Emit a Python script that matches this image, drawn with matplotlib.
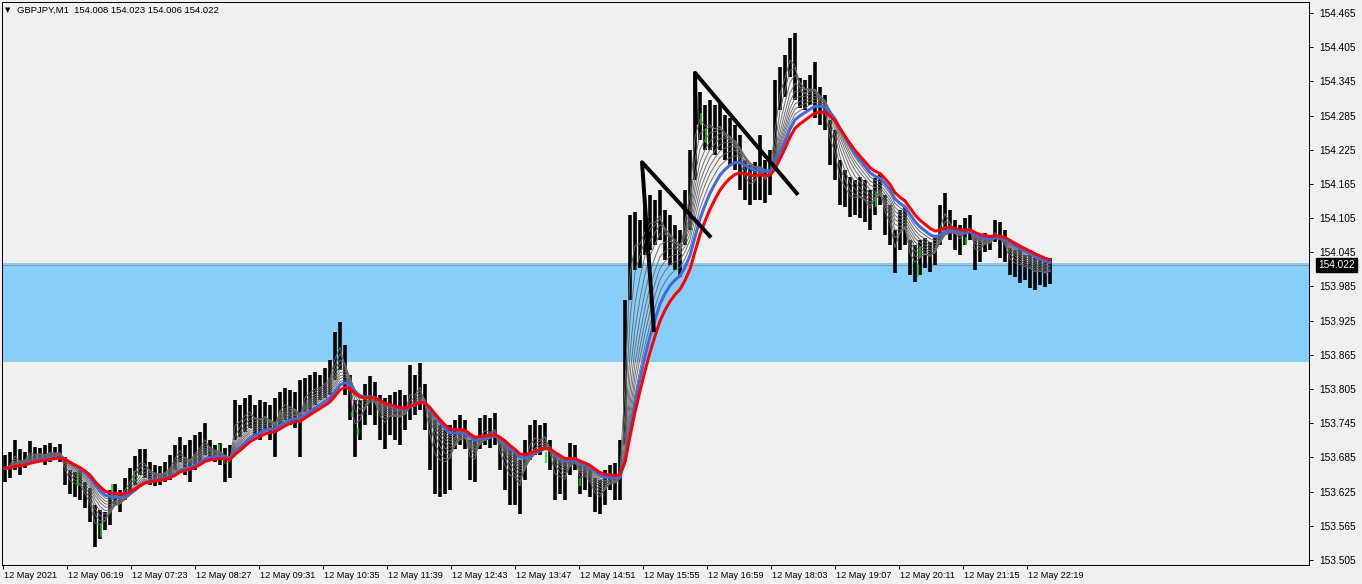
import numpy as np
import matplotlib
matplotlib.use("Agg")
import matplotlib.pyplot as plt
import matplotlib.transforms as mtransforms

plt.rcParams['font.family'] = ['Liberation Sans', 'DejaVu Sans']

# ---------------- data ----------------
title_symbol = "GBPJPY,M1"
title_ohlc = ["154.008", "154.023", "154.006", "154.022"]

minutes_per_group = 5  # each stored range covers 5 one-minute bars

bar_high = [
    153.690, 153.695, 153.716, 153.699, 153.695, 153.713, 153.704, 153.702, 153.707, 153.711,
    153.704, 153.709, 153.685, 153.663, 153.660, 153.663, 153.642, 153.632, 153.602, 153.593,
    153.590, 153.628, 153.639, 153.628, 153.649, 153.667, 153.688, 153.699, 153.699, 153.677,
    153.672, 153.670, 153.677, 153.690, 153.707, 153.721, 153.707, 153.716, 153.725, 153.730,
    153.746, 153.716, 153.707, 153.711, 153.702, 153.707, 153.786, 153.777, 153.790, 153.795,
    153.777, 153.786, 153.783, 153.777, 153.790, 153.800, 153.807, 153.804, 153.799, 153.821,
    153.825, 153.830, 153.835, 153.830, 153.842, 153.856, 153.906, 153.923, 153.883, 153.830,
    153.786, 153.786, 153.813, 153.828, 153.818, 153.795, 153.790, 153.795, 153.799, 153.804,
    153.795, 153.848, 153.830, 153.851, 153.813, 153.769, 153.751, 153.742, 153.734, 153.742,
    153.751, 153.760, 153.751, 153.716, 153.720, 153.755, 153.760, 153.755, 153.763, 153.716,
    153.707, 153.699, 153.699, 153.681, 153.716, 153.742, 153.751, 153.742, 153.746, 153.716,
    153.690, 153.681, 153.681, 153.711, 153.707, 153.672, 153.677, 153.667, 153.649, 153.646,
    153.663, 153.672, 153.676, 153.716, 153.962, 154.111, 154.116, 154.102, 154.128, 154.146,
    154.137, 154.155, 154.120, 154.111, 154.093, 154.085, 154.155, 154.225, 154.351, 154.327,
    154.304, 154.313, 154.304, 154.309, 154.286, 154.281, 154.269, 154.251, 154.207, 154.199,
    154.204, 154.251, 154.207, 154.225, 154.348, 154.370, 154.392, 154.421, 154.430, 154.351,
    154.348, 154.356, 154.379, 154.335, 154.321, 154.277, 154.260, 154.207, 154.190, 154.177,
    154.172, 154.177, 154.172, 154.155, 154.176, 154.185, 154.146, 154.128, 154.085, 154.120,
    154.125, 154.067, 154.058, 154.067, 154.070, 154.063, 154.076, 154.128, 154.149, 154.120,
    154.102, 154.093, 154.106, 154.111, 154.076, 154.070, 154.079, 154.076, 154.102, 154.099,
    154.085, 154.053, 154.049, 154.055, 154.041, 154.049, 154.041, 154.035, 154.032, 154.035,
]
bar_low = [
    153.642, 153.649, 153.663, 153.655, 153.667, 153.677, 153.677, 153.681, 153.672, 153.677,
    153.681, 153.677, 153.637, 153.620, 153.616, 153.611, 153.597, 153.572, 153.527, 153.541,
    153.558, 153.567, 153.602, 153.590, 153.611, 153.620, 153.637, 153.655, 153.649, 153.637,
    153.634, 153.637, 153.641, 153.646, 153.663, 153.677, 153.655, 153.641, 153.663, 153.677,
    153.690, 153.681, 153.677, 153.672, 153.642, 153.649, 153.716, 153.720, 153.730, 153.737,
    153.725, 153.716, 153.734, 153.716, 153.686, 153.742, 153.751, 153.742, 153.737, 153.686,
    153.765, 153.769, 153.777, 153.786, 153.790, 153.795, 153.821, 153.839, 153.795, 153.751,
    153.686, 153.716, 153.742, 153.760, 153.742, 153.716, 153.699, 153.725, 153.716, 153.707,
    153.734, 153.751, 153.760, 153.769, 153.734, 153.663, 153.620, 153.616, 153.620, 153.628,
    153.699, 153.707, 153.699, 153.646, 153.642, 153.699, 153.707, 153.702, 153.707, 153.663,
    153.628, 153.602, 153.602, 153.585, 153.646, 153.681, 153.690, 153.690, 153.699, 153.663,
    153.611, 153.620, 153.611, 153.655, 153.663, 153.620, 153.628, 153.615, 153.590, 153.585,
    153.602, 153.628, 153.611, 153.611, 153.707, 153.962, 154.014, 154.018, 154.041, 154.049,
    154.058, 154.067, 154.032, 154.023, 154.014, 154.002, 154.058, 154.085, 154.172, 154.242,
    154.225, 154.225, 154.216, 154.225, 154.207, 154.199, 154.190, 154.155, 154.137, 154.128,
    154.137, 154.137, 154.132, 154.146, 154.190, 154.295, 154.318, 154.353, 154.313, 154.299,
    154.295, 154.304, 154.281, 154.269, 154.260, 154.199, 154.172, 154.128, 154.125, 154.107,
    154.111, 154.106, 154.099, 154.085, 154.111, 154.128, 154.076, 154.058, 154.009, 154.049,
    154.058, 154.006, 153.993, 154.006, 154.018, 154.011, 154.023, 154.058, 154.085, 154.067,
    154.049, 154.041, 154.058, 154.067, 154.014, 154.028, 154.046, 154.049, 154.063, 154.035,
    154.028, 154.006, 154.002, 153.991, 153.997, 153.983, 153.979, 153.988, 153.984, 153.990,
]

green_bar_minute = [75, 98, 109, 131, 157, 216, 277, 280, 349, 355, 543, 577, 698, 703, 873, 915, 917, 963]
green_bar_high = [153.663, 153.570, 153.639, 153.661, 153.658, 153.709, 153.767, 153.756, 153.765,
                  153.737, 153.695, 153.649, 154.290, 154.263, 154.151, 154.023, 154.055, 154.072]
green_bar_low = [153.634, 153.546, 153.611, 153.642, 153.646, 153.693, 153.760, 153.748, 153.756,
                 153.725, 153.676, 153.634, 154.269, 154.237, 154.125, 154.002, 154.035, 154.058]

ribbon_periods = [5, 11, 17, 23, 29, 35, 41, 47, 54]
blue_period = 62
red_period = 75

zone_top = 154.027
zone_bottom = 153.852
bid_price = 154.022

# hand-drawn trend lines: (minute, price) vertices
trend_a_minute = [651, 639, 708]
trend_a_price = [153.905, 154.203, 154.071]
trend_b_minute = [693, 692, 795]
trend_b_price = [154.269, 154.360, 154.146]

x_tick_labels = ["12 May 2021", "12 May 06:19", "12 May 07:23", "12 May 08:27", "12 May 09:31",
                 "12 May 10:35", "12 May 11:39", "12 May 12:43", "12 May 13:47", "12 May 14:51",
                 "12 May 15:55", "12 May 16:59", "12 May 18:03", "12 May 19:07", "12 May 20:11",
                 "12 May 21:15", "12 May 22:19"]
label_every_minutes = 64
y_tick_values = [154.465, 154.405, 154.345, 154.285, 154.225, 154.165, 154.105, 154.045,
                 153.985, 153.925, 153.865, 153.805, 153.745, 153.685, 153.625, 153.565, 153.505]

# ---------------- figure ----------------
W, H, DPI = 1362, 584, 100
fig = plt.figure(figsize=(W / DPI, H / DPI), dpi=DPI, facecolor='#F0F0F0')
ax = fig.add_axes([2 / W, 1 - 565 / H, 1307 / W, 563 / H])
ax.set_facecolor('#F0F0F0')
ax.set_xlim(-1, 1306)
ax.set_ylim(153.4962, 154.4843)

px = 72.0 / DPI  # points per pixel

ax.axhspan(zone_bottom, zone_top, color='#87CEFA', lw=0, zorder=1)
ax.axhline(bid_price, color='#8496A8', lw=1 * px, zorder=2)

hi = np.array(bar_high)
lo = np.array(bar_low)
n = len(hi)
xc = np.arange(n) * minutes_per_group + (minutes_per_group - 1) / 2.0
ax.vlines(xc, lo, hi, color='black', lw=3.6 * px, zorder=3)
ax.vlines(green_bar_minute, green_bar_low, green_bar_high, color='#00E000', lw=1.5 * px, zorder=3.5)

mid = (hi + lo) / 2.0


def ema(values, period):
    a = 1 - (1 - 2.0 / (period + 1)) ** minutes_per_group
    out = np.empty_like(values)
    out[0] = values[0]
    for i in range(1, len(values)):
        out[i] = out[i - 1] + a * (values[i] - out[i - 1])
    return out


for p in ribbon_periods:
    ax.plot(xc, ema(mid, p), color='#6A6A6A', lw=0.9 * px, zorder=4)
ax.plot(xc, ema(mid, blue_period), color='#4169E1', lw=3 * px, zorder=5)
ax.plot(xc, ema(mid, red_period), color='#FF0000', lw=3 * px, zorder=6)

for xs, ys in ((trend_a_minute, trend_a_price), (trend_b_minute, trend_b_price)):
    ax.plot(xs, ys, color='black', lw=4 * px, zorder=7, solid_capstyle='butt')

# axes styling
for s in ax.spines.values():
    s.set_color('black')
    s.set_linewidth(1 * px)

ax.yaxis.tick_right()
ax.set_yticks(y_tick_values)
ax.set_yticklabels([f"{v:.3f}" for v in y_tick_values])
ax.tick_params(axis='y', direction='out', length=4 * px, width=1 * px, pad=6 * px,
               labelsize=7.3, colors='black')

xt = [i * label_every_minutes for i in range(len(x_tick_labels))]
ax.set_xticks(xt)
ax.set_xticklabels(x_tick_labels)
ax.tick_params(axis='x', direction='out', length=4 * px, width=1 * px, pad=1.5,
               labelsize=6.6, colors='black')
for lab in ax.get_xticklabels():
    lab.set_horizontalalignment('left')
    lab.set_transform(lab.get_transform() + mtransforms.ScaledTranslation(1.5 / DPI, 0, fig.dpi_scale_trans))

# bid price label on the axis
ax.annotate(f"{bid_price:.3f}", xy=(1, bid_price), xycoords=('axes fraction', 'data'),
            xytext=(9 * px, 0), textcoords='offset points', ha='left', va='center',
            fontsize=7.3, color='white',
            bbox=dict(boxstyle='square,pad=0.2', fc='black', ec='black'), zorder=10,
            annotation_clip=False)

# header text
fig.text(5 / W, 1 - 10 / H, "\u25BC", fontsize=5, family=['DejaVu Sans'], va='center', ha='left')
fig.text(17 / W, 1 - 10 / H, title_symbol + "  " + " ".join(title_ohlc), fontsize=6.8,
         va='center', ha='left')

fig.savefig("out.png", dpi=DPI, facecolor=fig.get_facecolor())
